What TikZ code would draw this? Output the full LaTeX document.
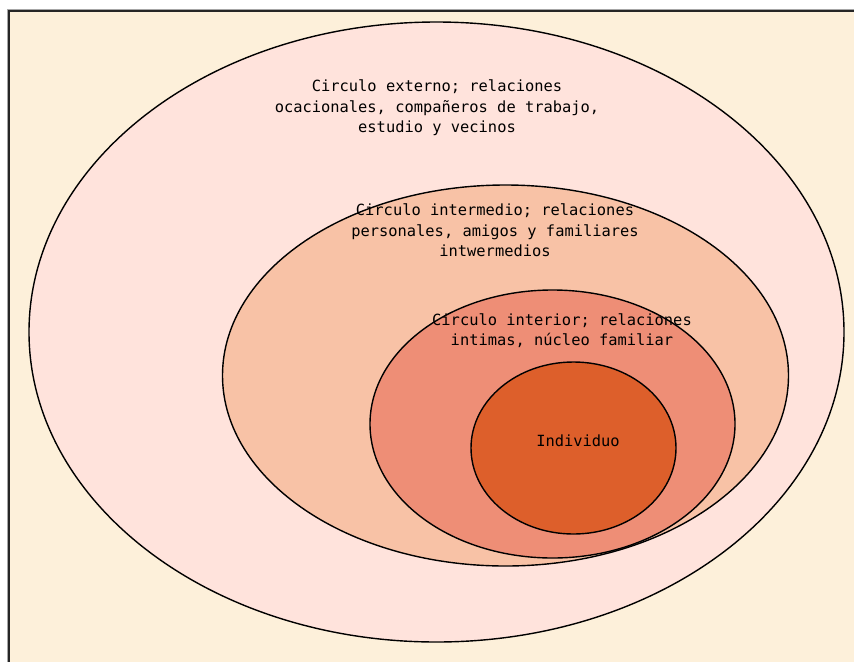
\documentclass[tikz,border=0pt]{standalone}
\usepackage{fontspec}
\setmonofont{DejaVu Sans Mono}
\usepackage{tikz}
\usepackage{xcolor}
\definecolor{fondo}{RGB}{253,240,218}
\definecolor{externo}{RGB}{255,227,220}
\definecolor{intermedio}{RGB}{248,194,166}
\definecolor{interior}{RGB}{238,142,118}
\definecolor{nucleo}{RGB}{221,95,43}
\tikzset{
  circulo/.style={draw=black, line width=1.4pt},
  rotulo/.style={inner sep=0.75pt, align=center, font=\ttfamily\fontsize{15.4}{20.5}\selectfont, text=black}
}

\begin{document}
\begin{tikzpicture}[x=1pt,y=1pt,yscale=-1,xscale=1]
\useasboundingbox (0,0) rectangle (854,662);

%Frame
\fill[white] (0,0) rectangle (854,662);
\fill[fondo] (9,10.5) rectangle (854,662);
\draw[gray!70, line width=1pt] (7.4,662) -- (7.4,9.2) -- (854,9.2);
\draw[black!85, line width=1.6pt] (9.2,662) -- (9.2,11) -- (854,11);

%Shape: Ellipses
\draw[circulo, fill=externo] (436.5,332) ellipse [x radius=407.5, y radius=310];
\draw[circulo, fill=intermedio] (505.5,375.5) ellipse [x radius=283, y radius=190.5];
\draw[circulo, fill=interior] (552.5,424) ellipse [x radius=182.5, y radius=134];
\draw[circulo, fill=nucleo] (573.5,448) ellipse [x radius=102.5, y radius=86];

% Text Node
\node[rotulo] (externo) at (437,108) {Circulo externo; relaciones\\ocacionales, compañeros de trabajo,\\estudio y vecinos};
% Text Node
\node[rotulo] (intermedio) at (495,230.5) {Circulo intermedio; relaciones\\personales, amigos y familiares\\intwermedios};
% Text Node
\node[rotulo] (interior) at (562,330.5) {Circulo interior; relaciones\\intimas, núcleo familiar};
% Text Node
\node[rotulo] (individuo) at (578,441) {Individuo};

\end{tikzpicture}
\end{document}
